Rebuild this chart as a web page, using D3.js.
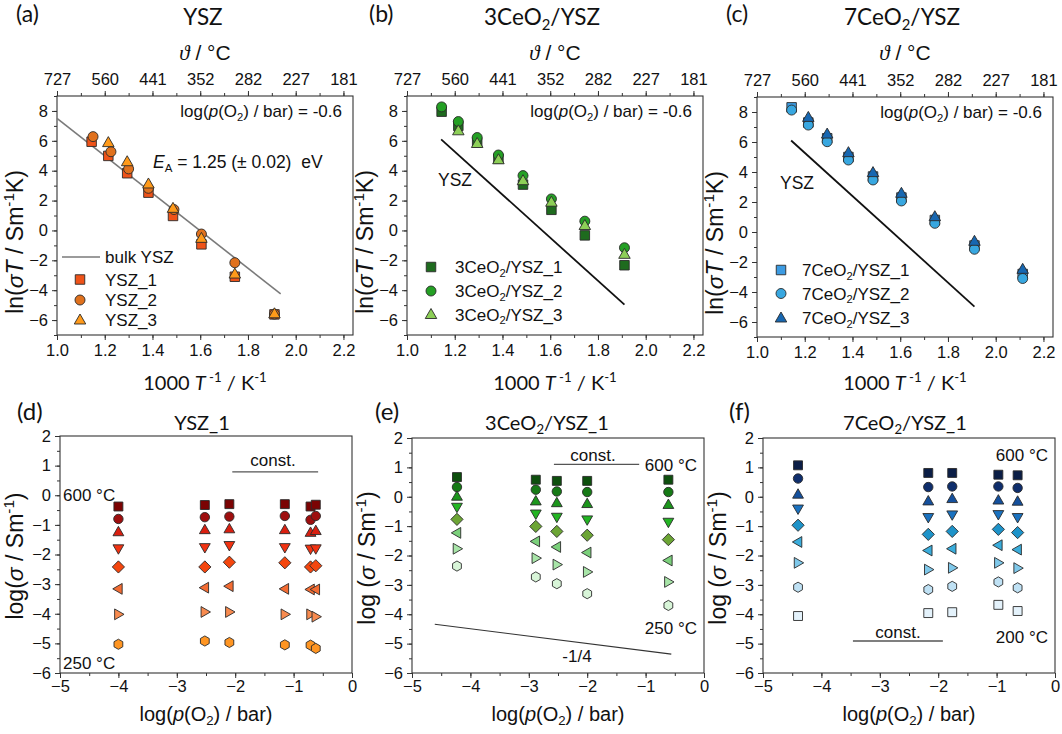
<!DOCTYPE html>
<html><head><meta charset="utf-8">
<script src="https://cdn.jsdelivr.net/npm/d3@7"></script>
<style>body{margin:0;background:#fff}svg{display:block}</style>
</head><body>
<svg id="fig" width="1062" height="734"></svg>
<script>
// ---------- data ----------
// 1000/T (1/K) for the measurement temperatures 600 °C ... 200 °C
const invT = [1.145, 1.215, 1.294, 1.383, 1.486, 1.605, 1.745, 1.911, 2.113];
const invTTicks = [1.0, 1.2, 1.4, 1.6, 1.8, 2.0, 2.2];
const invTMinorTicks = d3.range(1.0, 2.25, 0.1);
const celsiusTickLabels = ['727', '560', '441', '352', '282', '227', '181'];
const lnTicks = [-6, -4, -2, 0, 2, 4, 6, 8];
const lnMinorTicks = d3.range(-7, 10, 1);

// (a) YSZ  ln(σT / S m^-1 K)
const yszInvT2 = [1.151, 1.226, 1.300, 1.383, 1.490, 1.605, 1.745, 1.911];
const ysz1 = [5.94, 4.99, 3.83, 2.53, 0.97, -0.93, -3.10, -5.62];
const ysz2 = [6.28, 5.27, 4.12, 2.82, 1.40, -0.24, -2.16, -5.60];
const ysz3 = [null, 5.88, 4.60, 3.11, 1.48, -0.53, -2.92, -5.58];
const bulkYszInvT = [1.0, 1.937];
const bulkYszLn = [7.5, -4.25];

// (b) 3CeO2/YSZ
const ce3_1 = [7.95, 7.00, 5.90, 4.80, 3.07, 1.38, -0.33, -2.33];
const ce3_2 = [8.27, 7.29, 6.22, 5.05, 3.67, 2.11, 0.62, -1.16];
const ce3_3 = [null, 6.67, 5.82, 4.73, 3.33, 1.89, 0.33, -1.60];

// (c) 7CeO2/YSZ
const ce7_1 = [8.31, 7.30, 6.25, 5.00, 3.70, 2.30, 0.80, -0.90, -2.80];
const ce7_2 = [8.13, 7.13, 6.02, 4.80, 3.47, 2.07, 0.58, -1.15, -3.10];
const ce7_3 = [null, 7.64, 6.53, 5.29, 3.96, 2.58, 1.02, -0.62, -2.49];

// YSZ reference line drawn in (b) and (c)
const yszRefInvT = [1.143, 1.911];
const yszRefLn = [6.1, -4.97];

// log(p(O2)/bar) axis
const pO2Ticks = [-5, -4, -3, -2, -1, 0];
const pO2MinorTicks = d3.range(-5, 0.01, 0.5);
const logSigmaTicks = [-6, -5, -4, -3, -2, -1, 0, 1, 2];
const logSigmaMinorTicks = d3.range(-6, 2.01, 0.5);

// (d) YSZ_1 log(σ / S m^-1) vs log(p(O2))
const d_pO2 = [-4.0, -2.52, -2.10, -1.15, -0.71, -0.62];
const d_T600 = [-0.38, -0.33, -0.30, -0.30, -0.38, -0.32];
const d_T550 = [-0.80, -0.74, -0.72, -0.70, -0.83, -0.70];
const d_T500 = [-1.24, -1.17, -1.14, -1.17, -1.26, -1.20];
const d_T450 = [-1.80, -1.76, -1.69, -1.76, -1.81, -1.80];
const d_T400 = [-2.42, -2.42, -2.26, -2.28, -2.42, -2.38];
const d_T350 = [-3.16, -3.12, -3.07, -3.16, -3.18, -3.18];
const d_T300 = [-4.02, -3.94, -3.94, -4.02, -4.02, -4.10];
const d_T250 = [-5.03, -4.92, -4.97, -5.05, -5.06, -5.17];

// (e) 3CeO2/YSZ_1
const e_pO2 = [-4.23, -2.88, -2.52, -2.00, -0.61];
const e_T600 = [0.67, 0.58, 0.54, 0.54, 0.58];
const e_T550 = [0.33, 0.24, 0.18, 0.16, 0.16];
const e_T500 = [0.01, -0.15, -0.21, -0.24, -0.27];
const e_T450 = [-0.35, -0.58, -0.69, -0.78, -0.86];
const e_T400 = [-0.77, -1.01, -1.18, -1.31, -1.46];
const e_T350 = [-1.23, -1.52, -1.71, -1.90, -2.17];
const e_T300 = [-1.77, -2.09, -2.31, -2.56, -2.90];
const e_T250 = [-2.36, -2.73, -2.96, -3.30, -3.70];
const slopeLinePO2 = [-4.61, -0.56];
const slopeLineLog = [-4.34, -5.36];

// (f) 7CeO2/YSZ_1
const f_pO2 = [-4.40, -2.17, -1.76, -0.97, -0.64];
const f_T600 = [1.07, 0.81, 0.81, 0.75, 0.73];
const f_T550 = [0.62, 0.33, 0.35, 0.35, 0.30];
const f_T500 = [0.08, -0.15, -0.07, -0.12, -0.16];
const f_T450 = [-0.41, -0.70, -0.61, -0.60, -0.70];
const f_T400 = [-0.97, -1.28, -1.18, -1.11, -1.22];
const f_T350 = [-1.54, -1.83, -1.77, -1.65, -1.80];
const f_T300 = [-2.25, -2.48, -2.42, -2.25, -2.43];
const f_T250 = [-3.08, -3.16, -3.05, -2.90, -3.10];
const f_T200 = [-4.06, -3.96, -3.93, -3.68, -3.89];

// "const." guide lines: [x0, x1] at level y
const d_constX = [-2.05, -0.58], d_constY = 0.79;
const e_constX = [-2.57, -1.11], e_constY = 1.10;
const f_constX = [-3.46, -1.92], f_constY = -4.91;

// ---------- drawing helpers ----------
const SANS = "'Liberation Sans', Arial, Helvetica, sans-serif";
const TITLE = "Lato, 'Open Sans', sans-serif";
const SERIF = "'Liberation Serif', 'DejaVu Serif', serif";
const TICK_FONT = 16.5;
const svg = d3.select('#fig');

function rich(sel, parts, size) {
  let shift = 0;
  parts.forEach(([t, k, fam]) => {
    const ts = sel.append('tspan').text(t);
    let target = 0;
    if (k === 'sup') target = -size * 0.38;
    else if (k === 'sub') target = size * 0.22;
    if (target - shift !== 0) ts.attr('dy', target - shift);
    shift = target;
    if (k === 'sup' || k === 'sub') ts.attr('font-size', size * 0.66);
    if (k === 'i') ts.attr('font-style', 'italic');
    if (fam) ts.attr('font-family', fam);
  });
  return sel;
}
function text(x, y, parts, size, opts = {}) {
  const t = svg.append('text')
    .attr('x', x).attr('y', y)
    .attr('font-size', size)
    .attr('font-family', opts.family || SANS)
    .attr('text-anchor', opts.anchor || 'start')
    .attr('fill', opts.fill || '#111');
  if (opts.rotate) t.attr('transform', `rotate(${opts.rotate},${x},${y})`);
  rich(t, typeof parts === 'string' ? [[parts, '']] : parts, size);
  return t;
}

function markerPath(shape, r) {
  const p = d3.path();
  const poly = pts => { p.moveTo(pts[0][0], pts[0][1]); pts.slice(1).forEach(q => p.lineTo(q[0], q[1])); p.closePath(); };
  const s = r * 0.95;
  switch (shape) {
    case 'square': poly([[-s, -s], [s, -s], [s, s], [-s, s]]); break;
    case 'circle': p.arc(0, 0, r, 0, 2 * Math.PI); break;
    case 'triUp': poly([[0, -1.2 * r], [1.15 * r, 0.8 * r], [-1.15 * r, 0.8 * r]]); break;
    case 'triDown': poly([[0, 1.2 * r], [1.15 * r, -0.8 * r], [-1.15 * r, -0.8 * r]]); break;
    case 'triLeft': poly([[-1.2 * r, 0], [0.8 * r, -1.15 * r], [0.8 * r, 1.15 * r]]); break;
    case 'triRight': poly([[1.2 * r, 0], [-0.8 * r, -1.15 * r], [-0.8 * r, 1.15 * r]]); break;
    case 'diamond': poly([[0, -1.3 * r], [1.3 * r, 0], [0, 1.3 * r], [-1.3 * r, 0]]); break;
    case 'hexagon': {
      const pts = d3.range(6).map(i => { const a = Math.PI / 3 * i - Math.PI / 2; return [1.08 * r * Math.cos(a), 1.08 * r * Math.sin(a)]; });
      poly(pts); break;
    }
  }
  return p.toString();
}

function axes(g, x, y, o) {
  const styleAxis = a => {
    a.select('.domain').remove();
    a.selectAll('line').attr('stroke', '#333').attr('stroke-width', 1);
    a.selectAll('text').attr('font-family', SANS).attr('font-size', TICK_FONT).attr('fill', '#111');
  };
  const h = y.range()[0], w = x.range()[1];
  g.append('g').attr('transform', `translate(0,${h})`)
    .call(d3.axisBottom(x).tickValues(o.xMinor).tickSize(3).tickFormat('')).call(styleAxis);
  g.append('g').attr('transform', `translate(0,${h})`)
    .call(d3.axisBottom(x).tickValues(o.xTicks).tickSize(5).tickPadding(o.xPad).tickFormat(o.xFmt)).call(styleAxis);
  g.append('g')
    .call(d3.axisLeft(y).tickValues(o.yMinor).tickSize(3).tickFormat('')).call(styleAxis);
  g.append('g')
    .call(d3.axisLeft(y).tickValues(o.yTicks).tickSize(5).tickPadding(4).tickFormat(d3.format('d'))).call(styleAxis);
  if (o.topLabels) {
    g.append('g')
      .call(d3.axisTop(x).tickValues(o.xMinor).tickSize(3).tickFormat('')).call(styleAxis);
    g.append('g')
      .call(d3.axisTop(x).tickValues(o.xTicks).tickSize(5).tickPadding(6)
        .tickFormat((d, i) => o.topLabels[i])).call(styleAxis);
  }
  g.append('rect').attr('x', 0).attr('y', 0).attr('width', w).attr('height', h)
    .attr('fill', 'none').attr('stroke', '#333').attr('stroke-width', 1.1);
}

function scatter(g, xs, ys, x, y, shape, color, r) {
  g.append('g').selectAll('path')
    .data(xs.map((v, i) => [v, ys[i]]).filter(d => d[1] !== null && d[1] !== undefined))
    .join('path')
    .attr('transform', d => `translate(${x(d[0])},${y(d[1])})`)
    .attr('d', markerPath(shape, r))
    .attr('fill', color).attr('stroke', '#2a2a2a').attr('stroke-width', 0.9);
}

// ---------- top row: Arrhenius plots ----------
const topPanels = [
  { left: 57, top: 96, w: 296, h: 239, letter: '(a)', letterX: 16, titleX: 203,
    title: [['YSZ', '']],
    series: [
      { x: invT, y: ysz1, shape: 'square', color: '#EF5319', label: [['YSZ_1', '']] },
      { x: yszInvT2, y: ysz2, shape: 'circle', color: '#E0711D', label: [['YSZ_2', '']] },
      { x: invT, y: ysz3, shape: 'triUp', color: '#FF9A1A', label: [['YSZ_3', '']] }],
    line: { x: bulkYszInvT, y: bulkYszLn, color: '#7a7a7a', width: 1.6 },
    legendX: 80, legendY: [279.5, 300, 320], legendTextX: 105 },
  { left: 407, top: 96, w: 296, h: 239, letter: '(b)', letterX: 369, titleX: 542,
    title: [['3CeO', ''], ['2', 'sub'], ['/YSZ', '']],
    series: [
      { x: invT, y: ce3_1, shape: 'square', color: '#1E6B1E', label: [['3CeO', ''], ['2', 'sub'], ['/YSZ_1', '']] },
      { x: invT, y: ce3_2, shape: 'circle', color: '#24A024', label: [['3CeO', ''], ['2', 'sub'], ['/YSZ_2', '']] },
      { x: invT, y: ce3_3, shape: 'triUp', color: '#8DCF57', label: [['3CeO', ''], ['2', 'sub'], ['/YSZ_3', '']] }],
    line: { x: yszRefInvT, y: yszRefLn, color: '#111', width: 1.8 },
    refLabel: [438, 186],
    legendX: 431, legendY: [267, 291, 314.5], legendTextX: 455 },
  { left: 757, top: 97, w: 296, h: 240, letter: '(c)', letterX: 726, titleX: 902,
    title: [['7CeO', ''], ['2', 'sub'], ['/YSZ', '']],
    series: [
      { x: invT, y: ce7_1, shape: 'square', color: '#3C9BE2', label: [['7CeO', ''], ['2', 'sub'], ['/YSZ_1', '']] },
      { x: invT, y: ce7_2, shape: 'circle', color: '#38A7E0', label: [['7CeO', ''], ['2', 'sub'], ['/YSZ_2', '']] },
      { x: invT, y: ce7_3, shape: 'triUp', color: '#1767B1', label: [['7CeO', ''], ['2', 'sub'], ['/YSZ_3', '']] }],
    line: { x: yszRefInvT, y: yszRefLn, color: '#111', width: 1.8 },
    refLabel: [780, 189],
    legendX: 781, legendY: [270, 293.5, 318], legendTextX: 802 }
];

topPanels.forEach(P => {
  const g = svg.append('g').attr('transform', `translate(${P.left},${P.top})`);
  const x = d3.scaleLinear().domain([1.0, 2.24]).range([0, P.w]);
  const y = d3.scaleLinear().domain([-7, 9]).range([P.h, 0]);
  axes(g, x, y, { xTicks: invTTicks, xMinor: invTMinorTicks, xFmt: d3.format('.1f'), xPad: 4,
    yTicks: lnTicks, yMinor: lnMinorTicks, topLabels: celsiusTickLabels });
  const ln = d3.line().x(d => x(d[0])).y(d => y(d[1]));
  g.append('path').attr('d', ln(P.line.x.map((v, i) => [v, P.line.y[i]])))
    .attr('stroke', P.line.color).attr('stroke-width', P.line.width).attr('fill', 'none');
  P.series.forEach(s => scatter(g, s.x, s.y, x, y, s.shape, s.color, 5));
  // legend
  P.series.forEach((s, i) => {
    svg.append('path').attr('transform', `translate(${P.legendX},${P.legendY[i]})`)
      .attr('d', markerPath(s.shape, 5)).attr('fill', s.color).attr('stroke', '#2a2a2a').attr('stroke-width', 0.9);
    text(P.legendTextX, P.legendY[i] + 6, s.label, 17);
  });
  if (P.refLabel) text(P.refLabel[0], P.refLabel[1], 'YSZ', 17.5);
  // labels
  text(P.letterX, 22, P.letter, 23, { family: TITLE });
  text(P.titleX, 25, P.title, 22.5, { family: TITLE, anchor: 'middle' });
  text(P.left + 148, 60, [['ϑ', 'i', SERIF], [' / °C', '']], 21, { anchor: 'middle' });
  text(P.left + 148, 390, [['1000 ', ''], ['T', 'i'], [' -1', 'sup'], [' / K', ''], ['-1', 'sup']], 20, { family: TITLE, anchor: 'middle' });
  text(P.left - 34, P.top + 146, [['ln(', ''], ['σT', 'i'], [' / Sm', ''], ['-1', 'sup'], ['K)', '']], 23, { anchor: 'middle', rotate: -90 });
  text(P.left + P.w - 11, P.top + 21, [['log(', ''], ['p', 'i'], ['(O', ''], ['2', 'sub'], [') / bar) = -0.6', '']], 17, { anchor: 'end' });
});

// legend line + activation energy in (a)
svg.append('line').attr('x1', 62).attr('x2', 100).attr('y1', 257).attr('y2', 257)
  .attr('stroke', '#7a7a7a').attr('stroke-width', 1.6);
text(105, 263, 'bulk YSZ', 17);
text(153, 168, [['E', 'i'], ['A', 'sub'], [' = 1.25 (± 0.02)  eV', '']], 17.5).style('white-space', 'pre');

// ---------- bottom row: p(O2) dependence ----------
const shapes = ['square', 'circle', 'triUp', 'triDown', 'diamond', 'triLeft', 'triRight', 'hexagon', 'square'];
const bottomPanels = [
  { left: 60, top: 436, w: 292, h: 237, letter: '(d)', letterX: 17, titleX: 202,
    title: [['YSZ_1', '']], px: d_pO2,
    rows: [d_T600, d_T550, d_T500, d_T450, d_T400, d_T350, d_T300, d_T250],
    colors: ['#7B0303', '#9E0E0E', '#D91F10', '#F23211', '#F4460E', '#F36C33', '#F88B4F', '#FF9522'],
    constX: d_constX, constY: d_constY, constText: [273, 466],
    tHigh: [63, 501, '600 °C', 'start'], tLow: [63, 669, '250 °C', 'start'] },
  { left: 412, top: 438, w: 292, h: 235, letter: '(e)', letterX: 375, titleX: 547,
    title: [['3CeO', ''], ['2', 'sub'], ['/YSZ_1', '']], px: e_pO2,
    rows: [e_T600, e_T550, e_T500, e_T450, e_T400, e_T350, e_T300, e_T250],
    colors: ['#0D4F0D', '#167A16', '#1C961C', '#23B523', '#6CA535', '#7BD07B', '#A8E5A8', '#D8F5D8'],
    constX: e_constX, constY: e_constY, constText: [593, 461],
    tHigh: [697, 471, '600 °C', 'end'], tLow: [697, 634, '250 °C', 'end'] },
  { left: 763, top: 438, w: 292, h: 235, letter: '(f)', letterX: 729, titleX: 905,
    title: [['7CeO', ''], ['2', 'sub'], ['/YSZ_1', '']], px: f_pO2,
    rows: [f_T600, f_T550, f_T500, f_T450, f_T400, f_T350, f_T300, f_T250, f_T200],
    colors: ['#0B1E46', '#0F2E6C', '#14509D', '#1A72C0', '#1E93C9', '#3AADDC', '#7FC8EA', '#BFE1F4', '#E4F2FB'],
    constX: f_constX, constY: f_constY, constText: [898, 638],
    tHigh: [1048, 461, '600 °C', 'end'], tLow: [1048, 643, '200 °C', 'end'] }
];

bottomPanels.forEach(P => {
  const g = svg.append('g').attr('transform', `translate(${P.left},${P.top})`);
  const x = d3.scaleLinear().domain([-5, 0]).range([0, P.w]);
  const y = d3.scaleLinear().domain([-6, 2]).range([P.h, 0]);
  axes(g, x, y, { xTicks: pO2Ticks, xMinor: pO2MinorTicks, xFmt: d3.format('d'), xPad: 2,
    yTicks: logSigmaTicks, yMinor: logSigmaMinorTicks });
  g.append('line').attr('x1', x(P.constX[0])).attr('x2', x(P.constX[1]))
    .attr('y1', y(P.constY)).attr('y2', y(P.constY)).attr('stroke', '#555').attr('stroke-width', 1.3);
  P.rows.forEach((row, i) => scatter(g, P.px, row, x, y, shapes[i], P.colors[i], 4.7));
  if (P.letter === '(e)') {
    g.append('line').attr('x1', x(slopeLinePO2[0])).attr('x2', x(slopeLinePO2[1]))
      .attr('y1', y(slopeLineLog[0])).attr('y2', y(slopeLineLog[1])).attr('stroke', '#333').attr('stroke-width', 1.2);
    text(577, 662, '-1/4', 17, { anchor: 'middle' });
  }
  text(P.constText[0], P.constText[1], 'const.', 17, { anchor: 'middle' });
  text(P.tHigh[0], P.tHigh[1], P.tHigh[2], 17, { anchor: P.tHigh[3] });
  text(P.tLow[0], P.tLow[1], P.tLow[2], 17, { anchor: P.tLow[3] });
  text(P.letterX, 420, P.letter, 24, { family: TITLE });
  text(P.titleX, 430, P.title, 20, { family: TITLE, anchor: 'middle' });
  text(P.left + 146, 721, [['log(', ''], ['p', 'i'], ['(O', ''], ['2', 'sub'], [') / bar)', '']], 20, { anchor: 'middle' });
  const yl = P.letter === '(d)' ? [['log(', ''], ['σ', 'i'], [' / Sm', ''], ['-1', 'sup'], [')', '']]
                                : [['log (', ''], ['σ', 'i'], [' / Sm', ''], ['-1', 'sup'], [')', '']];
  text(P.left - 37, P.top + 120, yl, 23, { anchor: 'middle', rotate: -90 });
});
</script>
</body></html>
